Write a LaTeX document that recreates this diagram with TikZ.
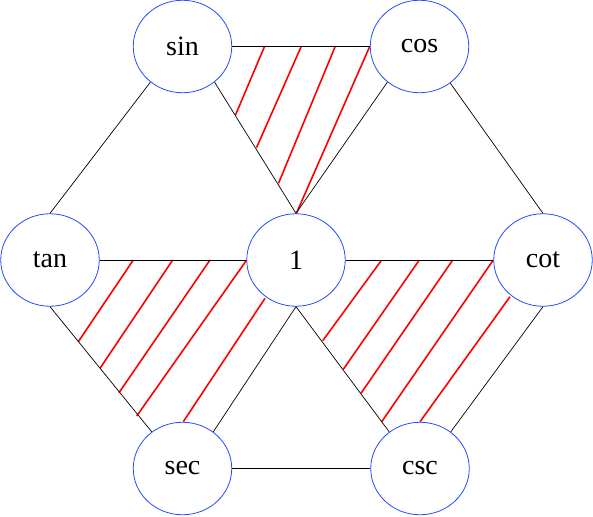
\documentclass[tikz,border=0pt]{standalone}
\usepackage{fontspec}
\setmainfont{Liberation Serif}
\usetikzlibrary{shapes.geometric}
\definecolor{nodeblue}{RGB}{35,75,255}
\definecolor{hatchred}{RGB}{255,0,0}
\begin{document}
\begin{tikzpicture}[x=1pt,y=-1pt,
  fn/.style={ellipse,draw=nodeblue,line width=0.8pt,minimum width=98.5pt,minimum height=92.5pt,inner sep=0pt,font=\fontsize{28}{30}\selectfont},
  edge/.style={draw=black,line width=0.7pt},
  hatch/.style={draw=hatchred,line width=1.6pt}]
\useasboundingbox (0,0) rectangle (593,516);
% hatching
\draw[hatch] (264.3,47) -- (235.5,115) (301,47) -- (256.5,147.7) (335,47) -- (278.5,183.3) (369.5,47) -- (296.5,213);
\draw[hatch] (133.3,260) -- (78.3,341.7) (172.7,260) -- (100,368.3) (210,260) -- (119,392.7) (246.7,260) -- (136.7,416) (265,298.3) -- (183.3,421.7);
\draw[hatch] (381.7,260) -- (322.7,340.7) (419.3,260) -- (343.3,369.3) (452.7,260) -- (361,393.3) (493.3,260) -- (381.7,421.7) (510,296.7) -- (420,421.7);
% nodes
\node[fn] (sin) at (182.5,46.5) {sin};
\node[fn] (cos) at (419.5,46.5) {cos};
\node[fn] (tan) at (50,260) {tan};
\node[fn] (one) at (296,260) {1};
\node[fn] (cot) at (543,260) {cot};
\node[fn] (sec) at (182.5,468.5) {sec};
\node[fn] (csc) at (420,468.5) {csc};
% edges
\draw[edge] (sin.east) -- (cos.west);
\draw[edge] (sin.-132) -- (tan.north);
\draw[edge] (sin.-48) -- (one.north);
\draw[edge] (cos.-132) -- (one.north);
\draw[edge] (cos.-50) -- (cot.north);
\draw[edge] (tan.east) -- (one.west);
\draw[edge] (one.east) -- (cot.west);
\draw[edge] (tan.south) -- (sec.130);
\draw[edge] (one.south) -- (sec.50);
\draw[edge] (one.south) -- (csc.130);
\draw[edge] (cot.south) -- (csc.50);
\draw[edge] (sec.east) -- (csc.west);
\end{tikzpicture}
\end{document}
